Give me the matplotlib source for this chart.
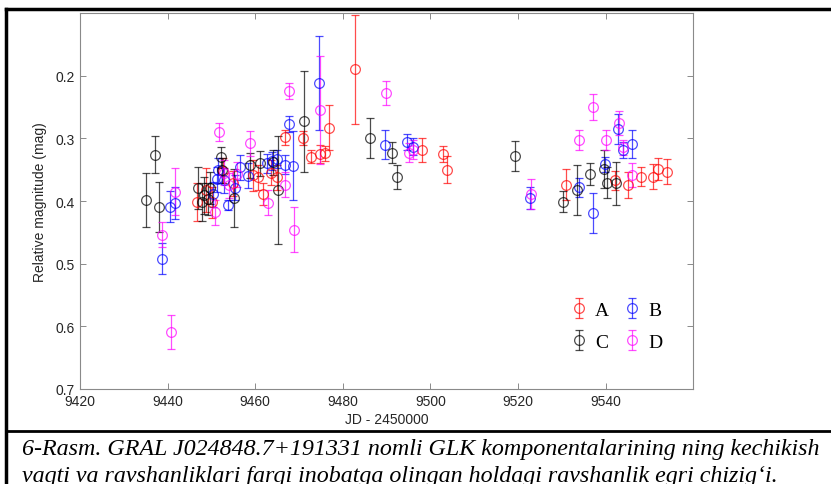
#! /usr/bin/env python3

import matplotlib
matplotlib.use("Agg")
import matplotlib.pyplot as plt
from matplotlib.lines import Line2D

# Component A (red)
a_jd = [9446.6, 9448.8, 9450.1, 9452.6, 9455.0, 9459.6, 9460.7, 9461.8, 9463.5,
        9465.0, 9466.8, 9470.8, 9472.7, 9474.8, 9475.9, 9476.8, 9482.8, 9498.0,
        9502.9, 9503.7, 9531.0, 9542.2, 9545.0, 9548.0, 9550.9, 9552.0, 9554.1]
a_mag = [0.402, 0.383, 0.402, 0.352, 0.372, 0.359, 0.362, 0.389, 0.355,
         0.362, 0.298, 0.300, 0.329, 0.325, 0.324, 0.283, 0.190, 0.318,
         0.325, 0.350, 0.374, 0.367, 0.375, 0.361, 0.361, 0.349, 0.353]
a_err = [0.030, 0.035, 0.025, 0.020, 0.020, 0.025, 0.020, 0.018, 0.020,
         0.020, 0.012, 0.011, 0.010, 0.015, 0.012, 0.036, 0.087, 0.019,
         0.013, 0.022, 0.025, 0.015, 0.021, 0.015, 0.020, 0.017, 0.020]

# Component B (blue)
b_jd = [9438.6, 9440.5, 9441.7, 9450.4, 9451.2, 9451.6, 9452.9, 9453.7, 9455.4,
        9456.5, 9458.4, 9462.6, 9463.8, 9464.9, 9466.8, 9467.8, 9468.7, 9474.6,
        9489.6, 9494.7, 9495.9, 9522.7, 9534.0, 9537.0, 9539.9, 9542.9, 9543.9,
        9545.9]
b_mag = [0.492, 0.409, 0.403, 0.389, 0.365, 0.351, 0.367, 0.407, 0.379,
         0.346, 0.360, 0.340, 0.336, 0.333, 0.342, 0.277, 0.344, 0.212,
         0.310, 0.306, 0.313, 0.395, 0.378, 0.419, 0.341, 0.285, 0.319,
         0.309]
b_err = [0.025, 0.025, 0.026, 0.020, 0.020, 0.020, 0.020, 0.008, 0.020,
         0.020, 0.020, 0.015, 0.015, 0.015, 0.015, 0.013, 0.055, 0.075,
         0.023, 0.013, 0.013, 0.018, 0.015, 0.032, 0.012, 0.024, 0.013,
         0.023]

# Component C (black)
c_jd = [9435.1, 9437.1, 9438.1, 9447.0, 9447.8, 9448.2, 9449.3, 9449.6, 9452.1,
        9452.3, 9455.2, 9458.8, 9461.1, 9464.1, 9465.3, 9471.2, 9486.2, 9491.3,
        9492.3, 9519.3, 9530.3, 9533.4, 9536.4, 9539.5, 9540.2, 9542.4]
c_mag = [0.398, 0.326, 0.410, 0.379, 0.402, 0.391, 0.397, 0.379, 0.330,
         0.351, 0.395, 0.343, 0.340, 0.338, 0.383, 0.273, 0.299, 0.323,
         0.362, 0.328, 0.401, 0.382, 0.357, 0.349, 0.371, 0.372]
c_err = [0.043, 0.030, 0.040, 0.034, 0.030, 0.030, 0.025, 0.025, 0.017,
         0.020, 0.046, 0.020, 0.020, 0.020, 0.086, 0.080, 0.032, 0.017,
         0.019, 0.024, 0.017, 0.040, 0.017, 0.030, 0.025, 0.035]

# Component D (magenta)
d_jd = [9438.6, 9440.7, 9441.7, 9450.7, 9451.8, 9452.9, 9453.9, 9455.8, 9458.7,
        9462.8, 9466.8, 9467.8, 9468.9, 9474.8, 9489.9, 9495.0, 9495.9, 9522.9,
        9533.9, 9537.0, 9540.0, 9543.0, 9544.0, 9545.9]
d_mag = [0.454, 0.609, 0.385, 0.418, 0.290, 0.355, 0.375, 0.357, 0.308,
         0.403, 0.374, 0.224, 0.446, 0.255, 0.228, 0.323, 0.318, 0.389,
         0.303, 0.250, 0.302, 0.275, 0.314, 0.358]
d_err = [0.020, 0.027, 0.037, 0.020, 0.015, 0.020, 0.020, 0.020, 0.020,
         0.020, 0.020, 0.013, 0.036, 0.086, 0.019, 0.015, 0.015, 0.024,
         0.016, 0.021, 0.016, 0.019, 0.012, 0.019]

x_ticks = [9420, 9440, 9460, 9480, 9500, 9520, 9540]
y_ticks = [0.2, 0.3, 0.4, 0.5, 0.6, 0.7]

caption_1 = "6-Rasm. GRAL J024848.7+191331 nomli GLK komponentalarining ning kechikish"
caption_2 = "vaqti va ravshanliklari farqi inobatga olingan holdagi ravshanlik egri chizig\u2018i."

series = [
  ("A", a_jd, a_mag, a_err, "#ff0000"),
  ("B", b_jd, b_mag, b_err, "#0000ff"),
  ("C", c_jd, c_mag, c_err, "#000000"),
  ("D", d_jd, d_mag, d_err, "#ff00ff"),
]

plt.rcParams["font.family"] = ["Liberation Sans", "DejaVu Sans"]

fig = plt.figure(figsize=(8.31, 4.85), dpi=100)
ax = fig.add_axes([0.0963, 0.196, 0.738, 0.775])

handles = {}
for name, jd, mag, err, col in series:
  h = ax.errorbar(jd, mag, yerr=err, fmt="o", mfc="none", mec=col, ms=7,
                  mew=0.9, ecolor=col, elinewidth=0.9, capsize=3, capthick=0.9,
                  alpha=0.7, label=name)
  handles[name] = h

ax.set_xlim(9420, 9560)
ax.set_ylim(0.7, 0.1)
ax.set_xticks(x_ticks)
ax.set_yticks(y_ticks)
ax.set_yticklabels(["0.2", "0.3", "0.4", "0.5", "0.6", "0.7"])
ax.tick_params(direction="in", top=True, right=True, length=4, width=0.6,
               colors="#777777", labelcolor="#262626", labelsize=10)
ax.tick_params(axis="y", pad=4)
for s in ax.spines.values():
  s.set_color("#8a8a8a")
  s.set_linewidth(0.8)
ax.set_xlabel("JD - 2450000", fontsize=10, color="#262626", labelpad=3)
ax.set_ylabel("Relative magnitude (mag)", fontsize=10, color="#262626", labelpad=6)

leg = ax.legend([handles["A"], handles["C"], handles["B"], handles["D"]],
                ["A", "C", "B", "D"], ncol=2, frameon=False,
                loc="upper left", bbox_to_anchor=(0.77, 0.28),
                prop={"family": "Liberation Serif", "size": 14},
                handlelength=1.0, handletextpad=0.3, columnspacing=0.7,
                labelspacing=0.75)

# outer frame and caption separator
fig.add_artist(Line2D([0.007, 0.007], [0.0, 0.979], color="black", lw=2.5))
fig.add_artist(Line2D([0.007, 1.0], [0.979, 0.979], color="black", lw=2.5))
fig.add_artist(Line2D([0.007, 1.0], [0.109, 0.109], color="black", lw=2.0))

fig.text(0.026, 0.062, caption_1, fontsize=17.3, style="italic",
         family="Liberation Serif", va="baseline")
fig.text(0.026, 0.006, caption_2, fontsize=17.3, style="italic",
         family="Liberation Serif", va="baseline")

plt.savefig("out.png", dpi=100)
